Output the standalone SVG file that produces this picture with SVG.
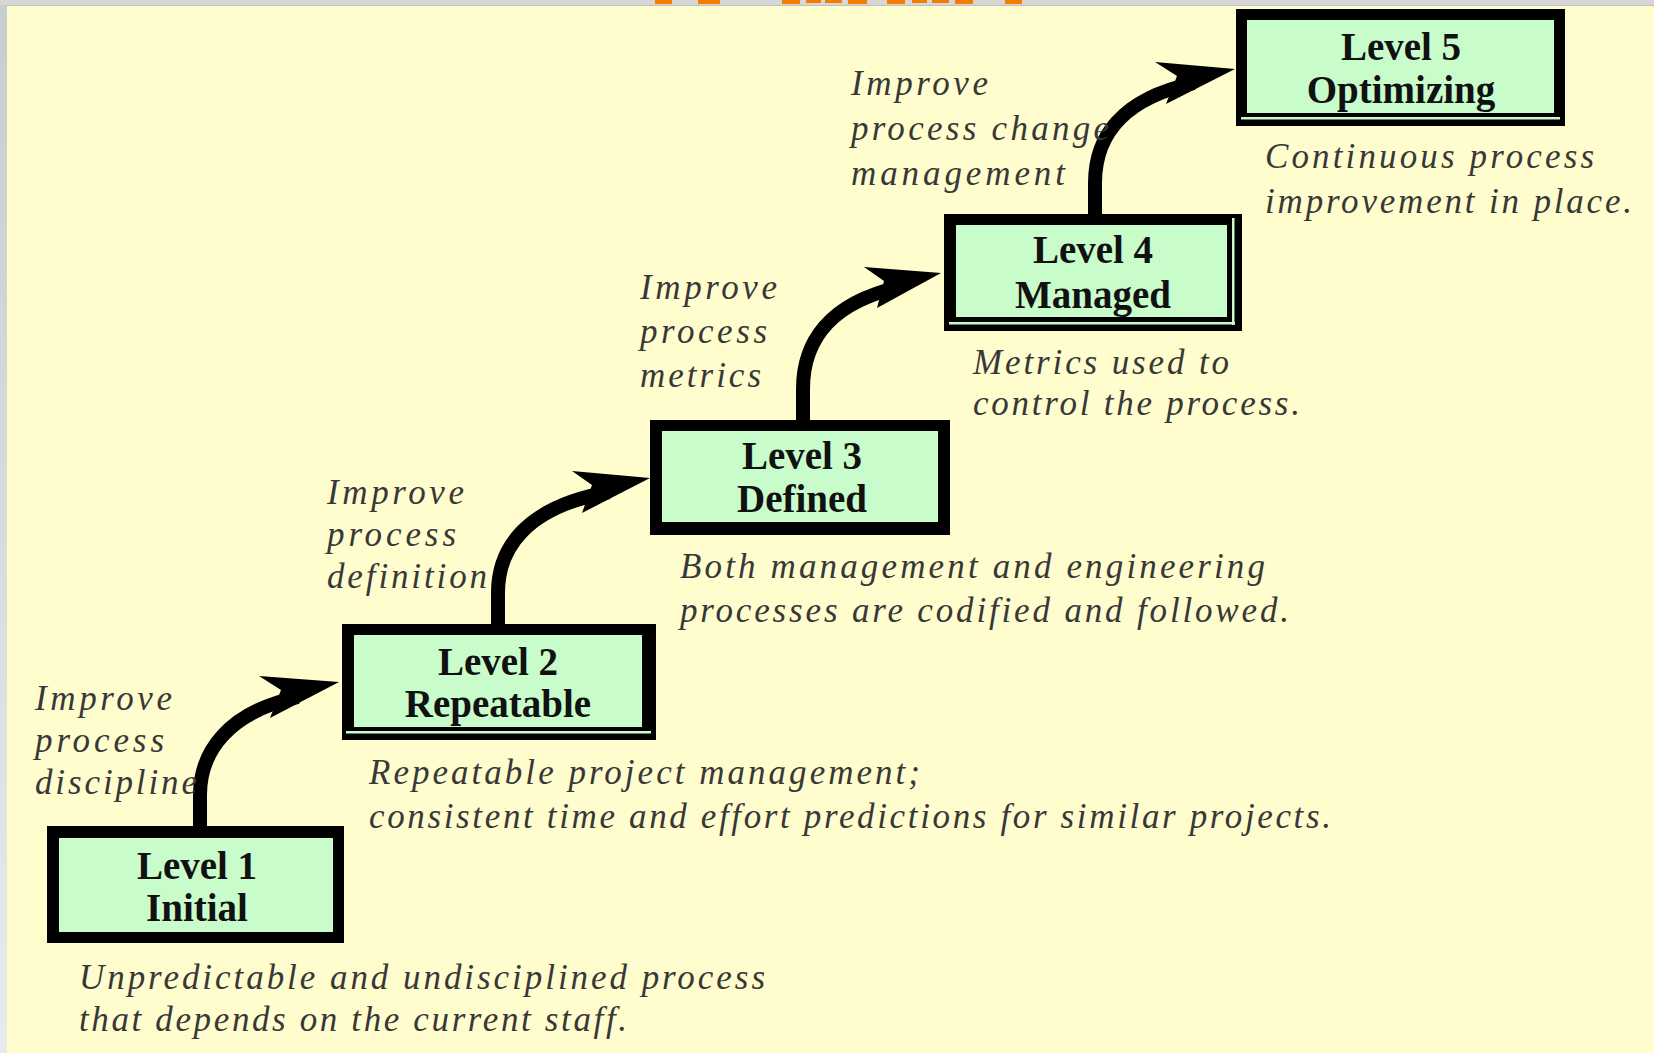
<svg xmlns="http://www.w3.org/2000/svg" width="1654" height="1053" viewBox="0 0 1654 1053">
<defs>
<style>
.outer{fill:#000}
.inner{fill:#C8FDCB}
.dbl{fill:#C8FDCB}
.lbl{font-family:"Liberation Serif","Times New Roman",serif;font-weight:bold;font-size:39px;text-anchor:middle;fill:#111}
.note{font-family:"Liberation Serif","Times New Roman",serif;font-style:italic;font-size:35px;fill:#383838}
.shaft{fill:none;stroke:#000;stroke-width:14}
.head{fill:#000}
.frag{fill:#F47C00}
</style>
<linearGradient id="side" x1="0" y1="0" x2="0" y2="1">
<stop offset="0" stop-color="#c8cdd0"/>
<stop offset="1" stop-color="#e6ecee"/>
</linearGradient>
</defs>
<rect x="0" y="0" width="1654" height="1053" fill="url(#side)"/>
<rect x="0" y="0" width="1654" height="5" fill="#d6d6d6"/>
<rect x="7" y="5" width="1647" height="1.5" fill="#b9c2bb"/>
<rect x="7" y="6" width="1647" height="1047" fill="#FFFDCD"/>
<g id="title-fragment">
<rect class="frag" x="655" y="0" width="17" height="4"/>
<rect class="frag" x="698" y="0" width="22" height="4"/>
<rect class="frag" x="782" y="0" width="18" height="4"/>
<rect class="frag" x="806" y="0" width="15" height="3"/>
<rect class="frag" x="825" y="0" width="17" height="3"/>
<rect class="frag" x="848" y="0" width="19" height="4"/>
<rect class="frag" x="887" y="0" width="18" height="4"/>
<rect class="frag" x="912" y="0" width="15" height="3"/>
<rect class="frag" x="932" y="0" width="17" height="3"/>
<rect class="frag" x="955" y="0" width="18" height="4"/>
<rect class="frag" x="1005" y="0" width="17" height="4"/>
</g>
<g id="connectors">
<path class="shaft" d="M200,827 V795 C200,752 228,712 298,697"/>
<polygon class="head" points="339,682 259,676 281,690 270,718"/>
<path class="shaft" d="M498,624 V593 C498,548 526,507 609,492"/>
<polygon class="head" points="650,478 572,471 592,485 582,513"/>
<path class="shaft" d="M803,420 V389 C803,343 828,303 900,287"/>
<polygon class="head" points="941,273 864,267 884,281 877,308"/>
<path class="shaft" d="M1095,214 V183 C1095,138 1120,99 1194,83"/>
<polygon class="head" points="1235,69 1155,62 1177,76 1166,104"/>
</g>
<g id="level1">
<rect class="outer" x="47" y="826" width="297" height="117"/>
<rect class="inner" x="59" y="838" width="274" height="94"/>
<text class="lbl" x="197" y="879">Level 1</text>
<text class="lbl" x="197" y="921">Initial</text>
</g>
<g id="level2">
<rect class="outer" x="342" y="624" width="314" height="116"/>
<rect class="inner" x="354" y="635" width="288" height="92"/>
<rect class="dbl" x="346" y="731" width="305" height="2.5"/>
<text class="lbl" x="498" y="675">Level 2</text>
<text class="lbl" x="498" y="717">Repeatable</text>
</g>
<g id="level3">
<rect class="outer" x="650" y="420" width="300" height="115"/>
<rect class="inner" x="662" y="431" width="276" height="91"/>
<text class="lbl" x="802" y="469">Level 3</text>
<text class="lbl" x="802" y="512">Defined</text>
</g>
<g id="level4">
<rect class="outer" x="944" y="214" width="298" height="117"/>
<rect class="inner" x="956" y="225" width="271" height="92"/>
<rect class="dbl" x="1232" y="218" width="2.5" height="107"/>
<rect class="dbl" x="949" y="322" width="286" height="2.5"/>
<text class="lbl" x="1093" y="263">Level 4</text>
<text class="lbl" x="1093" y="308">Managed</text>
</g>
<g id="level5">
<rect class="outer" x="1236" y="9" width="329" height="117"/>
<rect class="inner" x="1247" y="20" width="307" height="93"/>
<rect class="dbl" x="1241" y="117" width="319" height="2.5"/>
<text class="lbl" x="1401" y="60">Level 5</text>
<text class="lbl" x="1401" y="103">Optimizing</text>
</g>
<g id="notes">
<text class="note" x="35" y="710" textLength="137" lengthAdjust="spacing">Improve</text>
<text class="note" x="35" y="752" textLength="129" lengthAdjust="spacing">process</text>
<text class="note" x="35" y="794" textLength="162" lengthAdjust="spacing">discipline</text>
<text class="note" x="79" y="989" textLength="686" lengthAdjust="spacing">Unpredictable and undisciplined process</text>
<text class="note" x="79" y="1031" textLength="548" lengthAdjust="spacing">that depends on the current staff.</text>
<text class="note" x="369" y="784" textLength="551" lengthAdjust="spacing">Repeatable project management;</text>
<text class="note" x="369" y="828" textLength="962" lengthAdjust="spacing">consistent time and effort predictions for similar projects.</text>
<text class="note" x="327" y="504" textLength="137" lengthAdjust="spacing">Improve</text>
<text class="note" x="327" y="546" textLength="129" lengthAdjust="spacing">process</text>
<text class="note" x="327" y="588" textLength="160" lengthAdjust="spacing">definition</text>
<text class="note" x="680" y="578" textLength="585" lengthAdjust="spacing">Both management and engineering</text>
<text class="note" x="680" y="622" textLength="609" lengthAdjust="spacing">processes are codified and followed.</text>
<text class="note" x="640" y="299" textLength="137" lengthAdjust="spacing">Improve</text>
<text class="note" x="640" y="343" textLength="127" lengthAdjust="spacing">process</text>
<text class="note" x="640" y="387" textLength="121" lengthAdjust="spacing">metrics</text>
<text class="note" x="973" y="374" textLength="256" lengthAdjust="spacing">Metrics used to</text>
<text class="note" x="973" y="415" textLength="327" lengthAdjust="spacing">control the process.</text>
<text class="note" x="851" y="95" textLength="137" lengthAdjust="spacing">Improve</text>
<text class="note" x="851" y="140" textLength="258" lengthAdjust="spacing">process change</text>
<text class="note" x="851" y="185" textLength="214" lengthAdjust="spacing">management</text>
<text class="note" x="1265" y="168" textLength="329" lengthAdjust="spacing">Continuous process</text>
<text class="note" x="1265" y="213" textLength="367" lengthAdjust="spacing">improvement in place.</text>
</g>
</svg>
